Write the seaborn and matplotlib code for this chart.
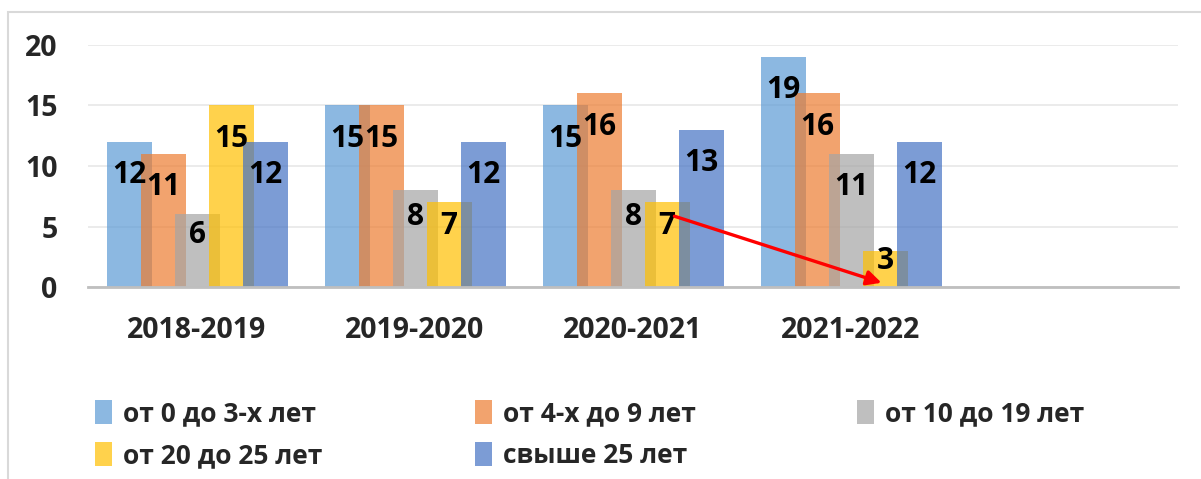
import pandas as pd
import matplotlib.pyplot as plt
import seaborn as sns
from matplotlib.patches import Patch, Rectangle

categories = ['2018-2019', '2019-2020', '2020-2021', '2021-2022']
groups = ['от 0 до 3-х лет', 'от 4-х до 9 лет', 'от 10 до 19 лет',
          'от 20 до 25 лет', 'свыше 25 лет']
age_0_3 = [12, 15, 15, 19]
age_4_9 = [11, 15, 16, 16]
age_10_19 = [6, 8, 8, 11]
age_20_25 = [15, 7, 7, 3]
age_25_plus = [12, 12, 13, 12]
colors = ['#5B9BD5', '#ED7D31', '#A5A5A5', '#FFC000', '#4472C4']

values = [age_0_3, age_4_9, age_10_19, age_20_25, age_25_plus]
df = pd.DataFrame({
    'period': categories * len(groups),
    'group': [g for g in groups for _ in categories],
    'count': [v for vals in values for v in vals],
})

sns.set_theme(style='white')
plt.rcParams['font.family'] = ['Open Sans', 'DejaVu Sans']
plt.rcParams['font.weight'] = 'bold'

fig = plt.figure(figsize=(12.01, 4.79), dpi=100)
ax = fig.add_axes([88 / 1201, 1 - 287 / 479, (1178 - 88) / 1201, (287 - 45) / 479])

sns.barplot(data=df, x='period', y='count', hue='group', order=categories,
            hue_order=groups, palette=colors, alpha=0.7, ax=ax,
            legend=False, saturation=1)

# overlapping bars like the Excel original
bar_w = 45 / 218
step = 34 / 218
for i, cont in enumerate(ax.containers):
    for bar in cont:
        c = round(bar.get_x() + bar.get_width() / 2)
        x0 = c + (i - 2) * step - bar_w / 2
        bar.set_x(x0)
        bar.set_width(bar_w)
        bar.set_edgecolor('none')
        v = bar.get_height()
        ax.text(x0 + bar_w / 2, max(v - 2.75, v * 0.72), f'{int(v)}',
                ha='center', va='center', fontsize=21.5, fontweight='bold',
                color='black', zorder=10)

ax.set_xlim(-0.5, 4.5)
ax.set_ylim(0, 20)
ax.set_yticks([0, 5, 10, 15, 20])
ax.set_xticks(range(len(categories)))
ax.set_xticklabels(categories)
ax.tick_params(axis='y', length=0, pad=22, labelsize=20.5)
ax.tick_params(axis='x', length=0, pad=21, labelsize=20.5)
for lbl in ax.get_xticklabels() + ax.get_yticklabels():
    lbl.set_fontweight('bold')
ax.set_xlabel('')
ax.set_ylabel('')
ax.yaxis.grid(True, color='#E8E8E8', linewidth=1.2)
ax.set_axisbelow(True)
for s in ['top', 'right', 'left']:
    ax.spines[s].set_visible(False)
ax.spines['bottom'].set_color('#BFBFBF')
ax.spines['bottom'].set_linewidth(2)

# red arrow: from the 2020-2021 yellow bar to the 2021-2022 yellow bar
arrow_start = (2.19, 5.85)
arrow_end = (3.14, 0.35)
ax.annotate('', xy=arrow_end, xytext=arrow_start,
            arrowprops=dict(arrowstyle='-|>', color='red', lw=2.4,
                            mutation_scale=22, shrinkA=0, shrinkB=0),
            zorder=12)

# legend: three columns, filled row by row
handles = [Patch(facecolor=c, alpha=0.7, edgecolor='none') for c in colors]
columns = [[0, 3], [1, 4], [2]]
col_x = [95, 475, 857]
for idx, x in zip(columns, col_x):
    fig.legend([handles[k] for k in idx], [groups[k] for k in idx],
               ncol=1, loc='upper left', bbox_to_anchor=(x / 1201, 1 - 400 / 479),
               frameon=False, prop={'size': 19, 'weight': 'bold'},
               handlelength=0.65, handleheight=1.0,
               handletextpad=0.4, labelspacing=0.58,
               borderaxespad=0, borderpad=0)

# chart frame
fig.patches.append(Rectangle((8 / 1201, -0.1), 1.2, 1.1 - 12 / 479,
                             transform=fig.transFigure, fill=False,
                             edgecolor='#D9D9D9', linewidth=1.5))

fig.savefig('out.png', dpi=100)
